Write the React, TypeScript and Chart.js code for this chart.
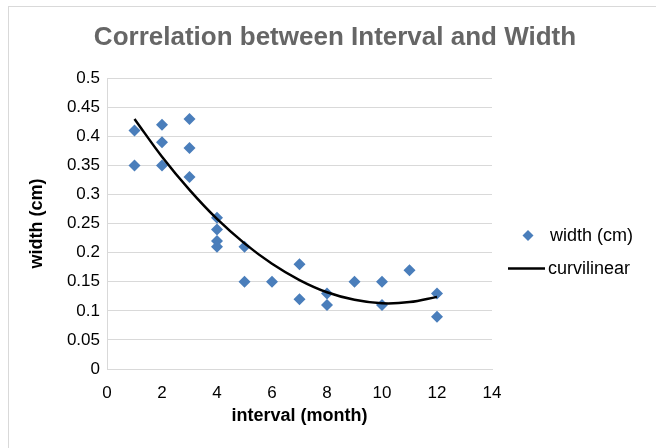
import React, { useEffect, useRef } from "react";
import { Chart, registerables } from "chart.js";

Chart.register(...registerables);

const intervalMonths = [1, 1, 2, 2, 2, 3, 3, 3, 4, 4, 4, 4, 5, 5, 6, 7, 7, 8, 8, 9, 10, 10, 11, 12, 12];
const widthCm = [0.41, 0.35, 0.42, 0.39, 0.35, 0.43, 0.38, 0.33, 0.26, 0.24, 0.22, 0.21, 0.21, 0.15, 0.15, 0.18, 0.12, 0.13, 0.11, 0.15, 0.15, 0.11, 0.17, 0.13, 0.09];
const curveX = [1, 2, 3, 4, 5, 6, 7, 8, 9, 10, 11, 12];
const curveY = [0.43, 0.365, 0.308, 0.258, 0.216, 0.181, 0.153, 0.132, 0.119, 0.113, 0.115, 0.124];
const seriesNames = ["width (cm)", "curvilinear"];
const chartTitle = "Correlation between Interval and Width";
const xTitle = "interval (month)";
const yTitle = "width (cm)";

const FONT = "'Liberation Sans', Arial, sans-serif";
const MARKER = "#4a7ebb";
const GRID = "#d9d9d9";

const frameAndLegend = {
  id: "frameAndLegend",
  beforeDraw(chart: any) {
    const ctx = chart.ctx;
    ctx.save();
    ctx.fillStyle = "#ffffff";
    ctx.fillRect(0, 0, chart.width, chart.height);
    ctx.strokeStyle = GRID;
    ctx.lineWidth = 1;
    ctx.strokeRect(8.5, 6.5, chart.width + 20, chart.height + 20);
    ctx.restore();
  },
  afterDraw(chart: any) {
    const ctx = chart.ctx;
    const a = chart.chartArea;
    const cy = (a.top + a.bottom) / 2;
    ctx.save();
    const dx = a.right + 36;
    const dy = cy + 12;
    ctx.fillStyle = MARKER;
    ctx.beginPath();
    ctx.moveTo(dx - 5.5, dy);
    ctx.lineTo(dx, dy - 5.5);
    ctx.lineTo(dx + 5.5, dy);
    ctx.lineTo(dx, dy + 5.5);
    ctx.closePath();
    ctx.fill();
    ctx.fillStyle = "#000";
    ctx.font = "18px " + FONT;
    ctx.textBaseline = "middle";
    ctx.textAlign = "left";
    ctx.fillText(seriesNames[0], a.right + 58, dy);
    const ly = cy + 45;
    ctx.strokeStyle = "#000";
    ctx.lineWidth = 2.5;
    ctx.beginPath();
    ctx.moveTo(a.right + 16, ly);
    ctx.lineTo(a.right + 53, ly);
    ctx.stroke();
    ctx.fillText(seriesNames[1], a.right + 56, ly);
    ctx.restore();
  },
};

export default function App() {
  const ref = useRef<HTMLCanvasElement>(null);
  useEffect(() => {
    if (!ref.current) return;
    const scatterData = intervalMonths.map((x, i) => ({ x, y: widthCm[i] }));
    const lineData = curveX.map((x, i) => ({ x, y: curveY[i] }));
    const chart = new Chart(ref.current, {
      type: "scatter",
      data: {
        datasets: [
          {
            label: seriesNames[0],
            data: scatterData,
            pointStyle: "rectRot",
            pointRadius: 6,
            pointHoverRadius: 6,
            backgroundColor: MARKER,
            borderColor: MARKER,
            borderWidth: 0,
            order: 1,
          },
          {
            type: "line",
            label: seriesNames[1],
            data: lineData,
            showLine: true,
            pointRadius: 0,
            borderColor: "#000",
            borderWidth: 2.5,
            tension: 0.4,
            fill: false,
            order: 0,
          } as any,
        ],
      },
      options: {
        animation: false,
        responsive: false,
        maintainAspectRatio: false,
        layout: { padding: { left: 14, right: 0, top: 20, bottom: 17 } },
        plugins: {
          legend: { display: false },
          tooltip: { enabled: false },
          title: {
            display: true,
            text: chartTitle,
            color: "#666666",
            font: { family: FONT, size: 26, weight: "bold" },
            padding: { top: 2, bottom: 25 },
          },
        },
        scales: {
          x: {
            type: "linear",
            min: 0,
            max: 14,
            afterFit: (s: any) => { s.height = 62; },
            ticks: {
              stepSize: 2,
              color: "#000",
              font: { family: FONT, size: 17 },
              padding: 14,
            },
            grid: { display: false, drawTicks: false },
            border: { display: true, color: GRID, width: 1 },
            title: {
              display: true,
              text: xTitle,
              color: "#000",
              font: { family: FONT, size: 18, weight: "bold" },
              padding: { top: 6, bottom: 4 },
            },
          },
          y: {
            type: "linear",
            min: 0,
            max: 0.5,
            afterFit: (s: any) => { s.width = 93; },
            ticks: {
              stepSize: 0.05,
              color: "#000",
              font: { family: FONT, size: 17 },
              padding: 7,
              callback: (v: any) => String(+Number(v).toFixed(2)),
            },
            grid: { color: GRID, lineWidth: 1, drawTicks: false },
            border: { display: true, color: GRID, width: 1 },
            title: {
              display: true,
              text: yTitle,
              color: "#000",
              font: { family: FONT, size: 18, weight: "bold" },
              padding: { top: 12, bottom: 8 },
            },
          },
          legendSpace: {
            type: "linear",
            position: "right",
            display: true,
            afterFit: (s: any) => { s.width = 164; },
            ticks: { display: false },
            grid: { display: false, drawTicks: false },
            border: { display: false },
          } as any,
        },
      },
      plugins: [frameAndLegend],
    });
    return () => chart.destroy();
  }, []);
  return (
    <div style={{ position: "absolute", left: 0, top: 0, width: 656, height: 448 }}>
      <canvas ref={ref} width={656} height={448} style={{ width: 656, height: 448 }} />
    </div>
  );
}
